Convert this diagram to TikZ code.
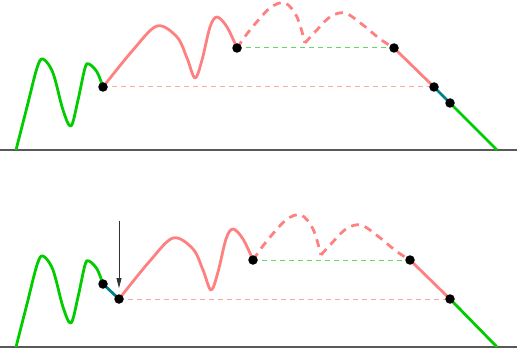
\documentclass[tikz,border=0pt]{standalone}
\usetikzlibrary{arrows.meta}
\definecolor{runred}{RGB}{255,128,128}
\definecolor{rungreen}{RGB}{0,204,0}
\definecolor{runteal}{RGB}{0,128,140}
\definecolor{pinkline}{RGB}{255,165,165}
\definecolor{greenline}{RGB}{100,215,100}
\tikzset{
  dot/.style={circle,fill=black,inner sep=0pt,minimum size=9.5pt},
  run/.style={line width=2.8pt,rungreen,line join=round},
  climb/.style={line width=2.8pt,runred,line join=round},
  jump/.style={climb,dash pattern=on 8pt off 6pt},
  slide/.style={line width=2.8pt,runteal},
  level/.style={line width=1pt,dash pattern=on 5pt off 4pt},
  ground/.style={line width=1.3pt,black!65}
}
\newcommand{\greenhill}[2]{%
\begin{scope}[shift={(0,#2)}]
\coordinate (#1o) at (16,150);
\coordinate (#1g) at (103,87);
\draw[run] plot[smooth,tension=0.55] coordinates {(#1o) (27,107) (37,68) (43,59) (53,73) (63,110) (71,126) (78,100) (85,68) (89,64) (97,72) (#1g)};
\end{scope}}
\newcommand{\redhill}[3]{%
\begin{scope}[shift={(#2,#3)}]
\coordinate (#1s) at (0,0);
\coordinate (#1a) at (134,-39);
\coordinate (#1b) at (291,-39);
\coordinate (#1e) at (331,0);
\draw[level,greenline] (#1a) -- (#1b);
\draw[climb] plot[smooth,tension=0.55] coordinates {(#1s) (30,-37) (54,-61) (74,-50) (84,-29) (92,-9) (99,-27) (107,-60) (114,-70) (124,-60) (#1a)};
\draw[jump] plot[smooth,tension=0.55] coordinates {(#1a) (147,-57) (167,-79) (182,-84) (194,-70) (202,-44)};
\draw[jump] plot[smooth,tension=0.55] coordinates {(202,-44) (212,-55) (227,-70) (242,-74) (260,-62) (277,-48) (#1b)};
\draw[climb] (#1b) -- (#1e);
\end{scope}}
\begin{document}
\begin{tikzpicture}[x=1pt,y=-1pt]
\useasboundingbox (0,0) rectangle (522,350);

\coordinate (gl1) at (0,150);
\coordinate (gr1) at (517,150);
\coordinate (gl2) at (0,347);
\coordinate (gr2) at (517,347);
\draw[ground] (gl1) -- (gr1);
\draw[ground] (gl2) -- (gr2);

\draw[level,pinkline] (103,87) coordinate (p1) -- (434,87) coordinate (q1);
\draw[level,pinkline] (119,299) coordinate (p2) -- (450,299) coordinate (q2);

\greenhill{u}{0}
\redhill{ur}{103}{87}
\coordinate (uk) at (450,103);
\coordinate (uz) at (497,150);
\draw[slide] (ure) -- (uk);
\draw[run] (uk) -- (uz);

\greenhill{d}{197}
\redhill{dr}{119}{299}
\coordinate (dz) at (497,347);
\draw[slide] (dg) -- (drs);
\draw[run] (dre) -- (dz);

\foreach \p in {ug,ura,urb,ure,uk,dg,drs,dra,drb,dre}
  \node[dot] (\p-dot) at (\p) {};

\coordinate (drop) at (119,221);
\draw[-{Triangle[length=10pt,width=5pt]},line width=0.8pt,black!80,shorten >=6pt] (drop) -- (drs-dot);
\end{tikzpicture}
\end{document}
